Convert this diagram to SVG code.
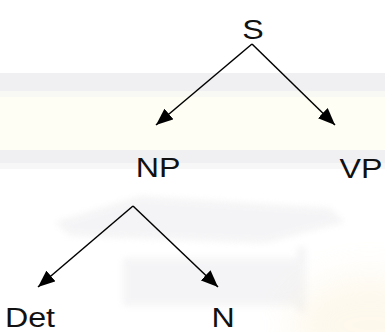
<svg xmlns="http://www.w3.org/2000/svg" width="385" height="332" viewBox="0 0 385 332">
  <defs>
    <style>
      .lbl { font-family: "Liberation Sans", Arial, sans-serif; font-size: 28px; fill: #111; text-anchor: middle; }
      .edge { stroke: #000; stroke-width: 1.5; fill: none; marker-end: url(#head); }
    </style>
    <marker id="head" markerUnits="userSpaceOnUse" markerWidth="18" markerHeight="14" viewBox="0 0 18 14" refX="17" refY="7" orient="auto">
      <path d="M0,0 L17,7 L0,14 z" fill="#000"/>
    </marker>
    <filter id="soft" x="-20%" y="-20%" width="140%" height="140%">
      <feGaussianBlur stdDeviation="3"/>
    </filter>
    <filter id="glow" x="-50%" y="-50%" width="200%" height="200%">
      <feGaussianBlur stdDeviation="18"/>
    </filter>
  </defs>

  <!-- background banding -->
  <rect width="385" height="332" fill="#ffffff"/>
  <rect y="73" width="385" height="18" fill="#f0f0f3"/>
  <rect y="91" width="385" height="6" fill="#f8f8f4"/>
  <rect y="97" width="385" height="53" fill="#fefef4"/>
  <rect y="150" width="385" height="13" fill="#f0f0f3"/>
  <rect y="163" width="385" height="6" fill="#f7f7f8"/>

  <!-- faint mortarboard watermark -->
  <g opacity="0.4" filter="url(#soft)" fill="#e6e6ea">
    <polygon points="55,222 140,196 330,208 345,222 265,243 70,236"/>
    <rect x="123" y="258" width="174" height="48"/>
    <rect x="297" y="247" width="9" height="65"/>
  </g>
  <ellipse cx="370" cy="325" rx="80" ry="50" fill="#fbeccb" opacity="0.35" filter="url(#glow)"/>

  <!-- connectors -->
  <g id="edges">
    <line class="edge" x1="252" y1="44" x2="156" y2="125"/>
    <line class="edge" x1="252" y1="44" x2="335" y2="125"/>
    <line class="edge" x1="133" y1="206" x2="38" y2="287"/>
    <line class="edge" x1="133" y1="206" x2="218" y2="287"/>
  </g>

  <!-- nodes -->
  <g id="S"><text class="lbl" transform="translate(253,39) scale(1.15,1)">S</text></g>
  <g id="NP"><text class="lbl" transform="translate(158,177) scale(1.15,1)">NP</text></g>
  <g id="VP"><text class="lbl" transform="translate(361,178) scale(1.15,1)">VP</text></g>
  <g id="Det"><text class="lbl" transform="translate(30,327) scale(1.15,1)">Det</text></g>
  <g id="N"><text class="lbl" transform="translate(223,327) scale(1.15,1)">N</text></g>
</svg>
